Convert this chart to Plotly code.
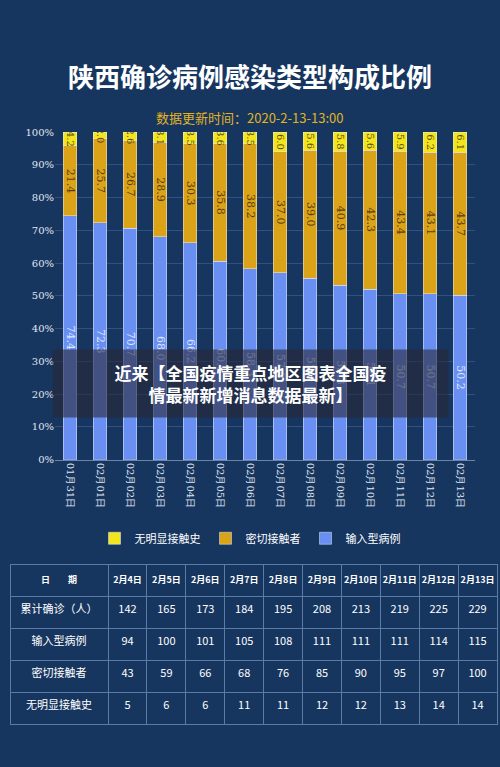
import plotly.graph_objects as go

dates = ["01月31日", "02月01日", "02月02日", "02月03日", "02月04日", "02月05日", "02月06日",
         "02月07日", "02月08日", "02月09日", "02月10日", "02月11日", "02月12日", "02月13日"]
imported = [74.4, 72.3, 70.7, 68.0, 66.2, 60.6, 58.3, 57.0, 55.4, 53.3, 52.1, 50.7, 50.7, 50.2]
close_contact = [21.4, 25.7, 26.7, 28.9, 30.3, 35.8, 38.2, 37.0, 39.0, 40.9, 42.3, 43.4, 43.1, 43.7]
no_contact = [4.2, 2.0, 2.6, 3.1, 3.5, 3.6, 3.5, 6.0, 5.6, 5.8, 5.6, 5.9, 6.2, 6.1]

table_dates = ["2月4日", "2月5日", "2月6日", "2月7日", "2月8日", "2月9日", "2月10日", "2月11日", "2月12日", "2月13日"]
row_labels = ["累计确诊（人）", "输入型病例", "密切接触者", "无明显接触史"]
total_cases = [142, 165, 173, 184, 195, 208, 213, 219, 225, 229]
imported_cases = [94, 100, 101, 105, 108, 111, 111, 111, 114, 115]
contact_cases = [43, 59, 66, 68, 76, 85, 90, 95, 97, 100]
unknown_cases = [5, 6, 6, 11, 11, 12, 12, 13, 14, 14]

BG = "#17365f"
FONT = "Noto Sans CJK SC"
SERIF = "DejaVu Serif"

fig = go.Figure()
fig.add_trace(go.Bar(x=dates, y=imported, name="输入型病例", marker_color="#6a8ff2",
                     text=[f"{v:.1f}" for v in imported], textposition="inside", textangle=90,
                     insidetextanchor="middle", textfont=dict(color="#dce6ff", size=11, family=SERIF)))
fig.add_trace(go.Bar(x=dates, y=close_contact, name="密切接触者", marker_color="#dba317",
                     text=[f"{v:.1f}" for v in close_contact], textposition="inside", textangle=90,
                     insidetextanchor="middle", textfont=dict(color="#5a3d10", size=11, family=SERIF)))
fig.add_trace(go.Bar(x=dates, y=no_contact, name="无明显接触史", marker_color="#f2e51e",
                     text=[f"{v:.1f}" for v in no_contact], textposition="inside", textangle=90,
                     insidetextanchor="middle", textfont=dict(color="#5a4a10", size=9, family=SERIF)))

# table rows: one column per date
columns = [row_labels] + [[total_cases[i], imported_cases[i], contact_cases[i], unknown_cases[i]]
                          for i in range(len(table_dates))]
fig.add_trace(go.Table(
    domain=dict(x=[0.02, 0.995], y=[0.045, 0.26]),
    columnwidth=[58] + [23] * 10,
    header=dict(values=["<b>日　　期</b>"] + [f"<b>{d}</b>" for d in table_dates], fill_color=BG,
                line_color="#5a7aa8", font=dict(color="white", size=9, family=FONT), height=32, align="center"),
    cells=dict(values=columns, fill_color=BG, line_color="#5a7aa8",
               font=dict(color="white", size=11, family=FONT), height=32, align="center"),
))

fig.update_layout(
    width=500, height=767, barmode="stack", bargap=0.55,
    uniformtext=dict(minsize=10, mode="show"),
    paper_bgcolor=BG, plot_bgcolor=BG,
    margin=dict(l=0, r=0, t=0, b=0),
    font=dict(family=FONT, color="white"),
    showlegend=True,
    legend=dict(orientation="h", x=0.5, xanchor="center", y=0.295, yanchor="middle",
                traceorder="reversed", font=dict(size=11, color="white"), bgcolor="rgba(0,0,0,0)"),
    xaxis=dict(domain=[0.11, 0.95], tickangle=90, tickfont=dict(size=10, color="#e0e6f0", family=SERIF),
               showgrid=False, linecolor="#6a84aa", anchor="y"),
    yaxis=dict(domain=[0.399, 0.833], range=[0, 100], dtick=10, ticksuffix="%",
               tickfont=dict(size=10, color="#e0e6f0", family=SERIF),
               gridcolor="#2f5080", zeroline=False),
    annotations=[
        dict(text="<b>陕西确诊病例感染类型构成比例</b>", x=0.5, y=0.935, xref="paper", yref="paper",
             showarrow=False, font=dict(size=26, color="white")),
        dict(text="数据更新时间：2020-2-13-13:00", x=0.5, y=0.868, xref="paper", yref="paper",
             showarrow=False, font=dict(size=13, color="#e2b422")),
        dict(text="<b>近来【全国疫情重点地区图表全国疫<br>情最新新增消息数据最新】</b>", x=0.5, y=0.5,
             xref="paper", yref="paper", showarrow=False, align="center",
             font=dict(size=17, color="white"), bgcolor="rgba(40,40,55,0.6)",
             borderpad=10, width=375),
    ],
)

fig.write_html("out.html", config={"displayModeBar": False},
               post_script="document.body.style.margin='0';document.body.style.overflow='hidden';")
